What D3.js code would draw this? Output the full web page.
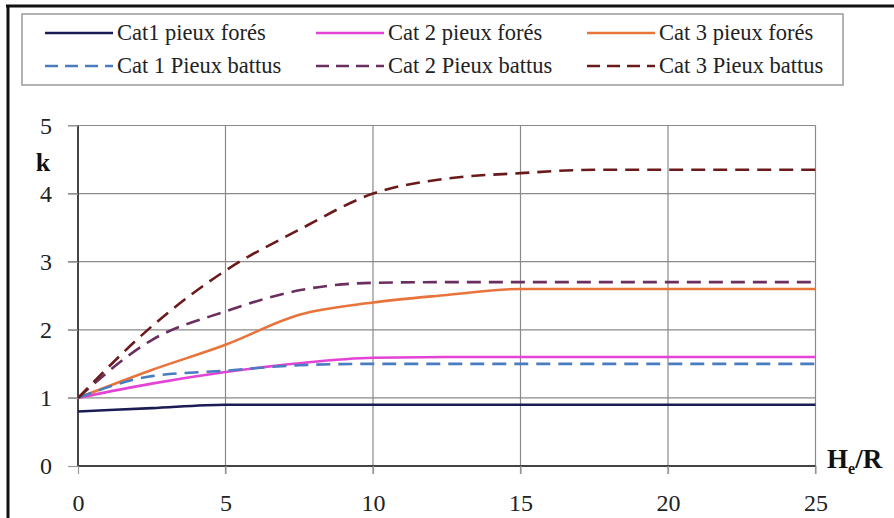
<!DOCTYPE html>
<html lang="fr">
<head>
<meta charset="utf-8">
<script src="https://cdnjs.cloudflare.com/ajax/libs/d3/7.8.5/d3.min.js"></script>
<style>
  body { margin: 0; background: #fff; }
  svg { display: block; }
  svg text { font-family: "Liberation Serif", "Times New Roman", serif; }
</style>
</head>
<body>
<script>
// abscisses He/R communes aux six courbes
var xs = [0, 2.5, 5, 7.5, 10, 12.5, 15, 17.5, 20, 25];

var cat1Fores  = [0.8, 0.85, 0.9, 0.9, 0.9, 0.9, 0.9, 0.9, 0.9, 0.9];
var cat2Fores  = [1.0, 1.21, 1.38, 1.51, 1.59, 1.6, 1.6, 1.6, 1.6, 1.6];
var cat3Fores  = [1.0, 1.41, 1.78, 2.22, 2.4, 2.51, 2.6, 2.6, 2.6, 2.6];
var cat1Battus = [1.0, 1.32, 1.4, 1.48, 1.5, 1.5, 1.5, 1.5, 1.5, 1.5];
var cat2Battus = [1.0, 1.85, 2.27, 2.58, 2.69, 2.7, 2.7, 2.7, 2.7, 2.7];
var cat3Battus = [1.0, 2.05, 2.87, 3.47, 4.0, 4.22, 4.3, 4.35, 4.35, 4.35];

var seriesNames = ["Cat1 pieux forés", "Cat 2 pieux forés", "Cat 3 pieux forés",
                   "Cat 1 Pieux battus", "Cat 2 Pieux battus", "Cat 3 Pieux battus"];
var xTicks = [0, 5, 10, 15, 20, 25];
var yTicks = [0, 1, 2, 3, 4, 5];

var series = [
  { name: seriesNames[0], vals: cat1Fores,  color: "#1c1c55", dash: null },
  { name: seriesNames[1], vals: cat2Fores,  color: "#e443d6", dash: null },
  { name: seriesNames[2], vals: cat3Fores,  color: "#e8743c", dash: null },
  { name: seriesNames[3], vals: cat1Battus, color: "#4a7cc0", dash: "14,8" },
  { name: seriesNames[4], vals: cat2Battus, color: "#6a2f5e", dash: "14,8" },
  { name: seriesNames[5], vals: cat3Battus, color: "#6a1a1a", dash: "14,8" }
];

var W = 894, H = 518;
var serif = "'Liberation Serif', 'Times New Roman', serif";

var svg = d3.select("body").append("svg")
  .attr("width", W)
  .attr("height", H);

// cadre extérieur (haut et gauche seulement visibles)
svg.append("line").attr("x1", 6).attr("x2", W).attr("y1", 6).attr("y2", 6)
  .attr("stroke", "#111").attr("stroke-width", 3);
svg.append("line").attr("x1", 8).attr("x2", 8).attr("y1", 5).attr("y2", H)
  .attr("stroke", "#111").attr("stroke-width", 3);

var x = d3.scaleLinear().domain([0, 25]).range([78, 815.5]);
var y = d3.scaleLinear().domain([0, 5]).range([466, 125.5]);

// grille
svg.append("g").selectAll("line").data(yTicks.slice(1)).enter().append("line")
  .attr("x1", x(0) - 10).attr("x2", x(25))
  .attr("y1", d => y(d)).attr("y2", d => y(d))
  .attr("stroke", "#8a8a8a").attr("stroke-width", 1.2);
svg.append("g").selectAll("line").data(xTicks.slice(1)).enter().append("line")
  .attr("x1", d => x(d)).attr("x2", d => x(d))
  .attr("y1", y(5)).attr("y2", y(0) + 8)
  .attr("stroke", "#8a8a8a").attr("stroke-width", 1.2);

// axes
var xAxis = d3.axisBottom(x).tickValues(xTicks).tickFormat(d3.format("d")).tickSize(8).tickPadding(20);
var yAxis = d3.axisLeft(y).tickValues(yTicks).tickFormat(d3.format("d")).tickSize(10).tickPadding(16);

var gx = svg.append("g").attr("transform", "translate(0," + y(0) + ")").call(xAxis);
var gy = svg.append("g").attr("transform", "translate(" + x(0) + ",0)").call(yAxis);

[gx, gy].forEach(function (g) {
  g.select(".domain").attr("stroke", "#444").attr("stroke-width", 2);
  g.selectAll(".tick line").attr("stroke", "#999").attr("stroke-width", 1.2);
  g.selectAll(".tick text").style("font-family", serif).attr("font-size", 24).attr("fill", "#222");
});
gx.select(".domain").attr("d", "M" + x(0) + ",0H" + x(25));
gy.select(".domain").attr("d", "M0," + y(0) + "V" + y(5));

// courbes
var line = d3.line()
  .x((d, i) => x(xs[i]))
  .y(d => y(d))
  .curve(d3.curveMonotoneX);

svg.append("g").selectAll("path").data(series).enter().append("path")
  .attr("d", d => line(d.vals))
  .attr("fill", "none")
  .attr("stroke", d => d.color)
  .attr("stroke-width", 2.6)
  .attr("stroke-dasharray", d => d.dash);

// titres des axes
svg.append("text").attr("x", 43).attr("y", 171)
  .attr("text-anchor", "middle")
  .style("font-family", serif).attr("font-size", 26).attr("font-weight", "bold")
  .attr("fill", "#111").text("k");

var hr = svg.append("text").attr("x", 827).attr("y", 468)
  .style("font-family", serif).attr("font-size", 27).attr("font-weight", "bold")
  .attr("fill", "#111");
hr.append("tspan").text("H");
hr.append("tspan").attr("dy", 6).attr("font-size", 16).text("e");
hr.append("tspan").attr("dy", -6).text("/R");

// légende
svg.append("rect").attr("x", 22).attr("y", 14).attr("width", 821).attr("height", 71)
  .attr("fill", "#fff").attr("stroke", "#9a9a9a").attr("stroke-width", 1.5);

var legX = [45, 316, 587], legY = [33, 66];
var leg = svg.append("g").selectAll("g").data(series).enter().append("g")
  .attr("transform", (d, i) => "translate(" + legX[i % 3] + "," + legY[Math.floor(i / 3)] + ")");
leg.append("line").attr("x1", 0).attr("x2", 68).attr("y1", 0).attr("y2", 0)
  .attr("stroke", d => d.color).attr("stroke-width", 2.6)
  .attr("stroke-dasharray", d => d.dash ? "13,7" : null);
leg.append("text").attr("x", 72).attr("y", 7)
  .style("font-family", serif).attr("font-size", 22.5).attr("fill", "#222")
  .text(d => d.name);
</script>
</body>
</html>
